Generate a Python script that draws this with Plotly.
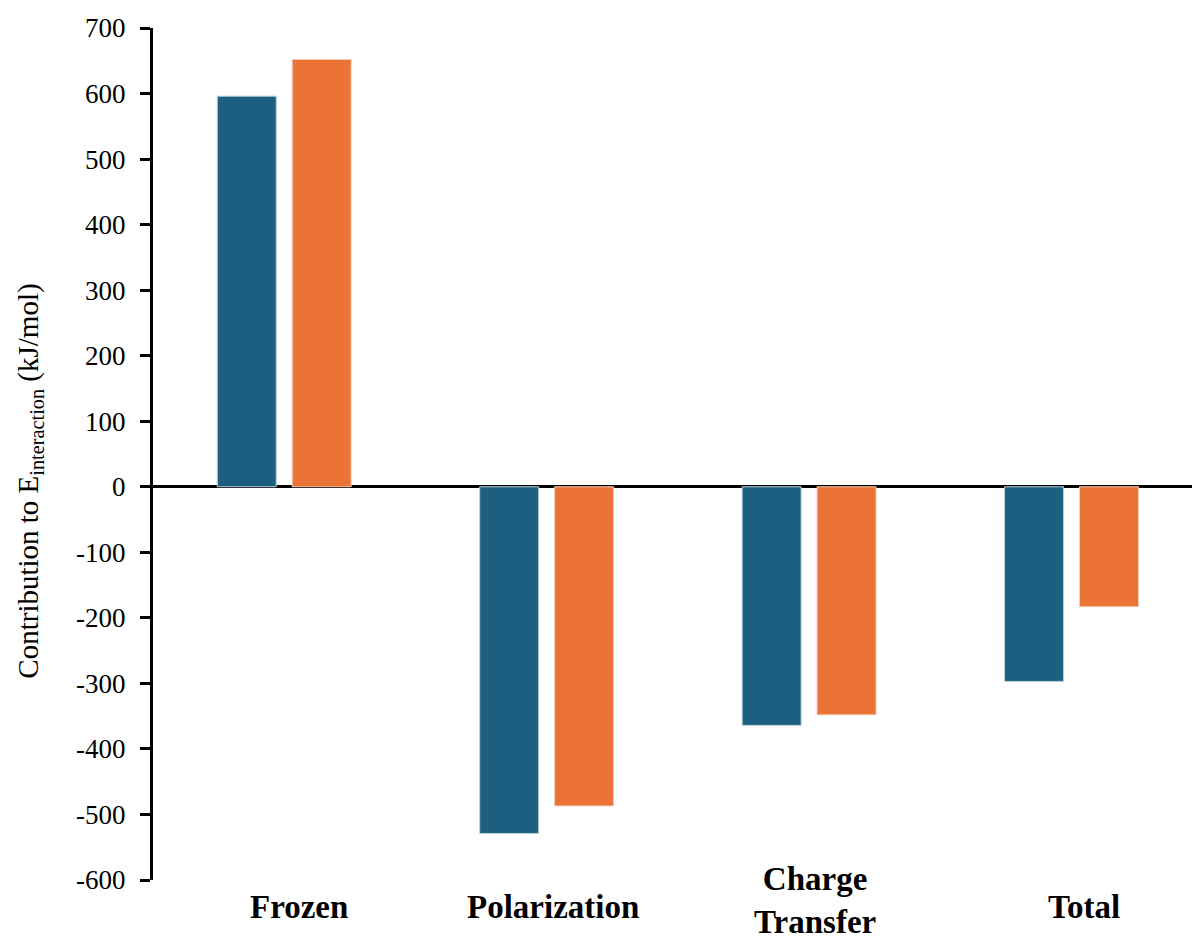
import plotly.graph_objects as go

categories = ["Frozen", "Polarization", "Charge<br>Transfer", "Total"]
series_a = [596, -529, -364, -297]
series_b = [652, -487, -348, -183]
y_ticks = [700, 600, 500, 400, 300, 200, 100, 0, -100, -200, -300, -400, -500, -600]

BLUE = "#1C5F80"
ORANGE = "#EB7335"
FONT = "Liberation Serif, Times New Roman, serif"

# horizontal / vertical nudges (px) for the category captions
label_dx = [15, 6, 6, 12]
label_dy = [0, 0, 7, 0]

xpos = list(range(len(categories)))

fig = go.Figure()
fig.add_trace(go.Bar(x=xpos, y=series_a, marker=dict(color=BLUE, line=dict(color="#BFD0DA", width=1)),
                     showlegend=False))
fig.add_trace(go.Bar(x=xpos, y=series_b, marker=dict(color=ORANGE, line=dict(color="#F6CDB6", width=1)),
                     showlegend=False))

# category labels, centred vertically below the plot
for xi, name, dx, dy in zip(xpos, categories, label_dx, label_dy):
    fig.add_annotation(x=xi, xref="x", y=-0.032, yref="paper", text="<b>" + name + "</b>",
                       showarrow=False, yanchor="middle", xanchor="center",
                       xshift=dx, yshift=dy,
                       font=dict(family=FONT, size=33, color="black"))

# rotated y-axis title
fig.add_annotation(x=-0.118, xref="paper", y=0.468, yref="paper",
                   text="Contribution to E<sub>interaction</sub> (kJ/mol)",
                   textangle=-90, showarrow=False, xanchor="center", yanchor="middle",
                   font=dict(family=FONT, size=29, color="black"))

fig.update_layout(
    width=1192, height=940,
    margin=dict(l=153, r=0, t=28, b=60),
    paper_bgcolor="white", plot_bgcolor="white",
    barmode="group", bargap=0.429, bargroupgap=0.213,
    font=dict(family=FONT, color="black"),
    xaxis=dict(range=[-0.5, 3.459], showticklabels=False, showgrid=False, zeroline=False,
               showline=False, ticks=""),
    yaxis=dict(range=[-600, 700], tickvals=y_ticks, ticktext=[str(v) for v in y_ticks],
               showgrid=False, zeroline=True, zerolinecolor="black", zerolinewidth=3,
               showline=True, linecolor="black", linewidth=3,
               ticks="outside", ticklen=10, tickwidth=3, tickcolor="black",
               ticklabelstandoff=9,
               tickfont=dict(family=FONT, size=27, color="black")),
)

fig.write_html("out.html")
